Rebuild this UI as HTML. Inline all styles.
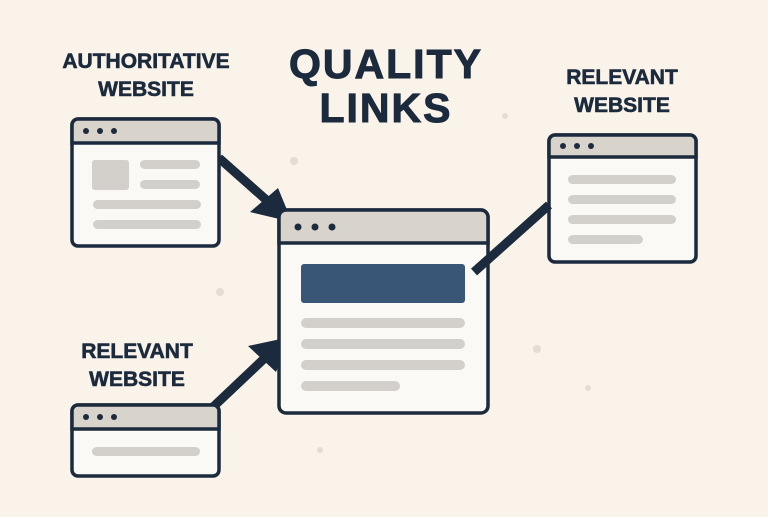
<!DOCTYPE html>
<html><head><style>
body{margin:0;width:768px;height:512px;background:#faf3ea;overflow:hidden;font-family:"Liberation Sans",sans-serif}
</style></head><body>
<svg width="768" height="512" xmlns="http://www.w3.org/2000/svg">
<g fill="#e3ddd5"><circle cx="294" cy="161" r="4"/><circle cx="220" cy="292" r="4"/><circle cx="505" cy="116" r="3"/><circle cx="537" cy="349" r="4"/><circle cx="588" cy="388" r="3"/><circle cx="320" cy="450" r="3"/></g>
<g font-weight="bold" fill="#1b2a3c" text-anchor="middle" stroke="#1b2a3c" stroke-width="0.6">
<text x="146" y="68" font-size="21">AUTHORITATIVE</text>
<text x="146" y="96" font-size="21">WEBSITE</text>
<text x="386" y="78" font-size="41" letter-spacing="2" stroke-width="1">QUALITY</text>
<text x="386" y="122" font-size="41" letter-spacing="2" stroke-width="1">LINKS</text>
<text x="622" y="84" font-size="21">RELEVANT</text>
<text x="622" y="112" font-size="21">WEBSITE</text>
<text x="137" y="358" font-size="21">RELEVANT</text>
<text x="137" y="386" font-size="21">WEBSITE</text>
</g>
<g stroke="#1b2a3c" stroke-width="9" fill="none">
<line x1="219" y1="158" x2="272" y2="205"/>
<line x1="212" y1="408" x2="268" y2="355"/>
</g>
<g fill="#1b2a3c">
<polygon points="292,222 250,212 278,188"/>
<polygon points="290,337 248,346 276,372"/>
</g>
<g stroke="#1b2a3c" stroke-width="3.5">
<rect x="72" y="119" width="147" height="127" rx="6" fill="#fbf9f6"/>
<path d="M72,143 V125 a6,6 0 0 1 6,-6 H213 a6,6 0 0 1 6,6 V143 Z" fill="#d8d4cc"/>
<rect x="549" y="135" width="147" height="127" rx="6" fill="#fbf9f6"/>
<path d="M549,157 V141 a6,6 0 0 1 6,-6 H690 a6,6 0 0 1 6,6 V157 Z" fill="#d8d4cc"/>
<rect x="72" y="405" width="147" height="71" rx="6" fill="#fbf9f6"/>
<path d="M72,429 V411 a6,6 0 0 1 6,-6 H213 a6,6 0 0 1 6,6 V429 Z" fill="#d8d4cc"/>
<rect x="279" y="210" width="209" height="203" rx="7" fill="#fbf9f6"/>
<path d="M279,243 V217 a7,7 0 0 1 7,-7 H481 a7,7 0 0 1 7,7 V243 Z" fill="#d8d4cc"/>
</g>
<line x1="474" y1="272" x2="549" y2="205" stroke="#1b2a3c" stroke-width="9"/>
<g fill="#1b2a3c">
<circle cx="86" cy="131" r="3"/><circle cx="100" cy="131" r="3"/><circle cx="114" cy="131" r="3"/>
<circle cx="563" cy="146" r="3"/><circle cx="577" cy="146" r="3"/><circle cx="591" cy="146" r="3"/>
<circle cx="86" cy="417" r="3"/><circle cx="100" cy="417" r="3"/><circle cx="114" cy="417" r="3"/>
<circle cx="298" cy="227" r="3.5"/><circle cx="315" cy="227" r="3.5"/><circle cx="332" cy="227" r="3.5"/>
</g>
<g fill="#d3d0cb">
<rect x="92" y="160" width="37" height="30" rx="3"/>
<rect x="140" y="160" width="60" height="9" rx="4.5"/><rect x="140" y="180" width="60" height="9" rx="4.5"/>
<rect x="93" y="200" width="108" height="9" rx="4.5"/><rect x="93" y="220" width="108" height="9" rx="4.5"/>
<rect x="568" y="175" width="108" height="9" rx="4.5"/><rect x="568" y="195" width="108" height="9" rx="4.5"/>
<rect x="568" y="215" width="108" height="9" rx="4.5"/><rect x="568" y="235" width="75" height="9" rx="4.5"/>
<rect x="92" y="447" width="108" height="9" rx="4.5"/>
<rect x="301" y="318" width="164" height="10" rx="5"/><rect x="301" y="339" width="164" height="10" rx="5"/>
<rect x="301" y="360" width="164" height="10" rx="5"/><rect x="301" y="381" width="99" height="10" rx="5"/>
</g>
<rect x="301" y="264" width="164" height="39" rx="3" fill="#3a5677"/>
</svg>
</body></html>
